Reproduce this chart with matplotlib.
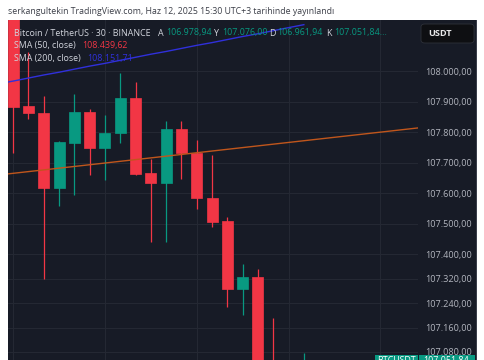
import matplotlib
matplotlib.use("Agg")
import matplotlib.pyplot as plt
from matplotlib.patches import Rectangle, FancyBboxPatch

plt.rcParams['font.family'] = ['Open Sans', 'DejaVu Sans']

# ---- data (30m BTC/USDT candles) ----
opens  = [108200, 107885, 107862, 107617, 107764, 107866, 107748, 107797, 107912, 107666,
          107633, 107810, 107731, 107584, 107509, 107286, 107325, 106990, 106940, 106978.94]
highs  = [108250, 108062, 107918, 107770, 107925, 107876, 107856, 107993, 107964, 107712,
          107836, 107836, 107774, 107725, 107522, 107368, 107352, 107191, 107030, 107076.00]
lows   = [107731, 107843, 107319, 107558, 107594, 107659, 107643, 107764, 107660, 107440,
          107440, 107646, 107548, 107489, 107227, 107201, 106950, 106900, 106880, 106961.94]
closes = [107882, 107862, 107617, 107768, 107866, 107748, 107797, 107912, 107663, 107633,
          107810, 107731, 107584, 107506, 107286, 107325, 106990, 106940, 106978.94, 107051.84]

# SMA(200) values for bar index -1 .. 19
sma200_idx = list(range(-1, 20))
sma200 = [107958, 107967, 107977, 107987, 107996, 108006, 108016, 108025, 108035, 108045,
          108055, 108064, 108074, 108084, 108093, 108103, 108113, 108122, 108132, 108142,
          108151.71]

# hand-drawn trend line anchors (bar index, price)
trend_x = [0, 26]
trend_y = [107665, 107811]

price_ticks = [108000, 107900, 107800, 107700, 107600, 107500, 107400,
               107320, 107240, 107160, 107080]
time_grid = [0, 6, 12, 18, 24]

header = "serkangultekin TradingView.com, Haz 12, 2025 15:30 UTC+3 tarihinde yayınlandı"
title = "Bitcoin / TetherUS · 30 · BINANCE"
ohlc_labels = ["A", "Y", "D", "K"]
ohlc_values = ["106.978,94", "107.076,00", "106.961,94", "107.051,84..."]
sma_labels = ["SMA (50, close)", "SMA (200, close)"]
sma_values = ["108.439,62", "108.151,71"]
last_price = 107051.84

# ---- style ----
BG = '#171b26'
GRID = '#242833'
UP = '#089981'
DOWN = '#f23645'
TXT = '#d1d4dc'
AX_TXT = '#b2b5be'

W, H = 485, 360
fig = plt.figure(figsize=(W / 100, H / 100), dpi=100)
fig.patch.set_facecolor('white')

# dark panel (chart + price scale)
fig.add_artist(Rectangle((8 / W, 0), (477 - 8) / W, 340 / H, transform=fig.transFigure,
                         facecolor=BG, edgecolor='none', zorder=0))
fig.add_artist(Rectangle((476 / W, 0), 1.2 / W, 340 / H, transform=fig.transFigure,
                         facecolor='#3a3e4a', edgecolor='none', zorder=1))

ax = fig.add_axes([8 / W, 0, 410 / W, 340 / H])
ax.set_facecolor(BG)
for s in ax.spines.values():
    s.set_visible(False)

ax.set_xlim(-0.34, 26.46)
ax.set_ylim(107053.7, 108167.0)

ax.set_xticks(time_grid)
ax.set_xticklabels([])
ax.tick_params(axis='x', length=0)
ax.yaxis.tick_right()
ax.set_yticks(price_ticks)
ax.set_yticklabels([f"{v:,.2f}".replace(",", "X").replace(".", ",").replace("X", ".")
                    for v in price_ticks])
ax.tick_params(axis='y', length=0, pad=5, labelsize=6.6, labelcolor=AX_TXT)
for lab in ax.get_yticklabels():
    lab.set_fontfamily(['Open Sans', 'DejaVu Sans'])
ax.grid(True, color=GRID, linewidth=0.8)
ax.set_axisbelow(True)

# candles
xs = list(range(len(opens)))
for i in xs:
    o, h, l, c = opens[i], highs[i], lows[i], closes[i]
    col = UP if c >= o else DOWN
    ax.vlines(i, l, h, color=col, linewidth=0.9, zorder=2)
    ax.bar(i, abs(c - o), bottom=min(o, c), width=0.72, color=col, edgecolor=col,
           linewidth=0.5, zorder=3)

# SMA 200 line and trend line
ax.plot(sma200_idx, sma200, color='#3030dc', linewidth=1.0, zorder=4)
ax.axline((trend_x[0], trend_y[0]), (trend_x[1], trend_y[1]), color='#c0561c',
          linewidth=1.0, zorder=4)

# header
fig.text(8 / W, 1 - 11 / H, header, fontsize=6.3, color='#3c3f48', va='center', ha='left')

# legend rows
def ytxt(py):
    return 1 - py / H

fs = 6.4
fig.text(14 / W, ytxt(33), title, fontsize=fs, color=TXT, va='center', zorder=10)
ohlc_x = [158, 214, 269, 326]
for lab, val, px in zip(ohlc_labels, ohlc_values, ohlc_x):
    t = fig.text(px / W, ytxt(33), lab, fontsize=fs, color=TXT, va='center', zorder=10)
    fig.text(px / W + 8.5 / W, ytxt(33), val, fontsize=fs, color=UP, va='center', zorder=10)

fig.text(14 / W, ytxt(45.5), sma_labels[0], fontsize=fs, color=TXT, va='center', zorder=10)
fig.text(82 / W, ytxt(45.5), sma_values[0], fontsize=fs, color=DOWN, va='center', zorder=10)
fig.text(14 / W, ytxt(58), sma_labels[1], fontsize=fs, color=TXT, va='center', zorder=10)
fig.text(87 / W, ytxt(58), sma_values[1], fontsize=fs, color='#3030dc', va='center', zorder=10)

# USDT box
fig.add_artist(FancyBboxPatch((421 / W, 1 - 43 / H), 53 / W, 19 / H,
                              boxstyle="round,pad=0,rounding_size=0.008",
                              transform=fig.transFigure, facecolor='#0e0f12',
                              edgecolor='#2e3139', linewidth=0.6, zorder=10))
fig.text(428 / W, ytxt(33.5), "USDT", fontsize=6.6, color='#e8e8ea', va='center',
         fontweight='bold', zorder=11)

# last price labels at the bottom
py = 71 + (108000 - last_price) * 0.3054
fig.add_artist(Rectangle((375 / W, 0), 43 / W, (360 - py + 5.5) / H, transform=fig.transFigure,
                         facecolor=UP, edgecolor='none', zorder=10))
fig.add_artist(Rectangle((418.5 / W, 0), 56.5 / W, (360 - py + 5.5) / H,
                         transform=fig.transFigure, facecolor=UP, edgecolor='none', zorder=10))
fig.text(396.5 / W, ytxt(py), "BTCUSDT", fontsize=6.4, color='white', va='center',
         ha='center', zorder=11)
fig.text(446 / W, ytxt(py), "107.051,84", fontsize=6.4, color='white', va='center',
         ha='center', zorder=11)

fig.savefig("out.png", dpi=100, facecolor=fig.get_facecolor())
